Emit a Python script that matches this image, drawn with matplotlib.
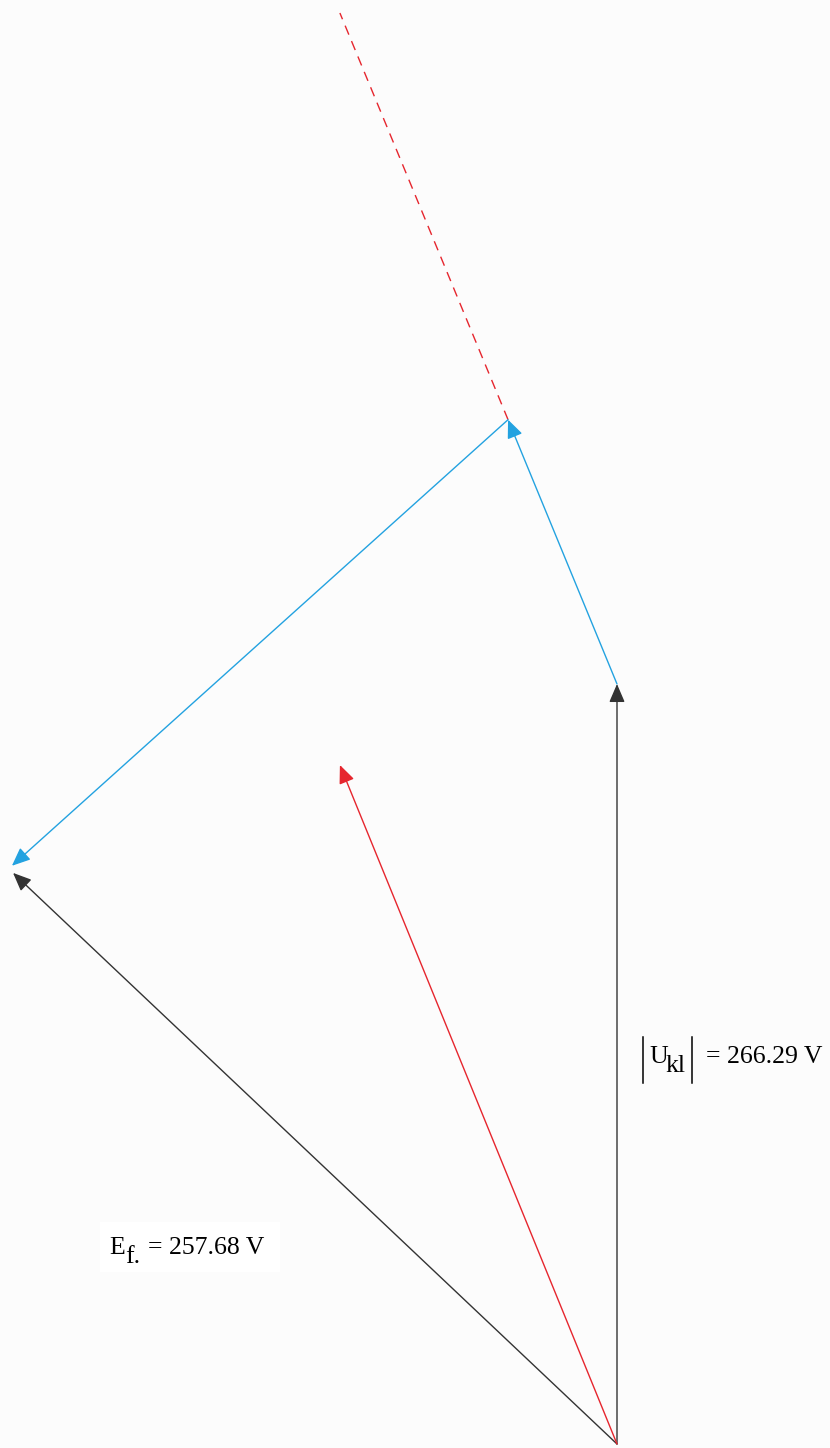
import numpy as np
import matplotlib.pyplot as plt

# phasor values in volts (x: horizontal, y: vertical component)
U_kl = (0.0, 266.29)
E_f = (-160.2, 200.1)
P = (-28.9, 358.9)          # tip of the first blue phasor
blue_tip = (-160.5, 202.6)   # end of the second blue phasor
I_tip = (-73.5, 237.9)       # current direction (red)
dash_end = (-73.5, 501.4)    # red dashed extension
U_value = '= 266.29 V'
E_value = '= 257.68 V'

plt.rcParams['font.family'] = ['Liberation Serif', 'DejaVu Serif']

W, H = 830, 1448
fig = plt.figure(figsize=(W / 100, H / 100), dpi=100, facecolor='#fcfcfc')
ax = fig.add_axes([0, 0, 1, 1])
ax.set_facecolor('#fcfcfc')

# pixel scales of the original drawing
sx, sy = 3.77, 2.854
ax.set_xlim(-617 / sx, (W - 617) / sx)
ax.set_ylim(-4 / sy, 1444 / sy)
ax.axis('off')

black = '#333333'
blue = '#23a2e0'
red = '#e6262e'


def arrow(start, end, color):
    ax.annotate('', xy=end, xytext=start,
                arrowprops=dict(arrowstyle='-|>,head_length=0.7,head_width=0.3',
                                color=color, lw=1.0, mutation_scale=16,
                                shrinkA=0, shrinkB=0))


ax.plot([P[0], dash_end[0]], [P[1], dash_end[1]], color=red, lw=1.0,
        linestyle=(0, (7, 5)))

arrow((0, 0), U_kl, black)
arrow((0, 0), E_f, black)
arrow((0, 0), I_tip, red)
arrow(U_kl, P, blue)
arrow(P, blue_tip, blue)


# label layout in pixel positions (x from left, y from top)
def ftext(x, y, s, size=18.5):
    ax.text(x / W, 1 - y / H, s, transform=ax.transAxes, fontsize=size,
            ha='left', va='baseline', color='black')


def fbar(x, y0, y1):
    ax.plot([x / W, x / W], [1 - y0 / H, 1 - y1 / H], transform=ax.transAxes,
            color='black', lw=1.1)


# |U_kl| = 266.29 V
fbar(643, 1037, 1083)
ftext(649, 1063, 'U')
ftext(665, 1072, 'kl')
fbar(692, 1037, 1083)
ftext(706, 1063, U_value)

# E_f. = 257.68 V
ax.add_patch(plt.Rectangle((100 / W, 1 - 1272 / H), 180 / W, 50 / H,
                           transform=ax.transAxes, facecolor='white',
                           edgecolor='none'))
ftext(109, 1254, 'E')
ftext(125, 1263, 'f.')
ftext(148, 1254, E_value)

fig.savefig('out.png', dpi=100, facecolor=fig.get_facecolor())
